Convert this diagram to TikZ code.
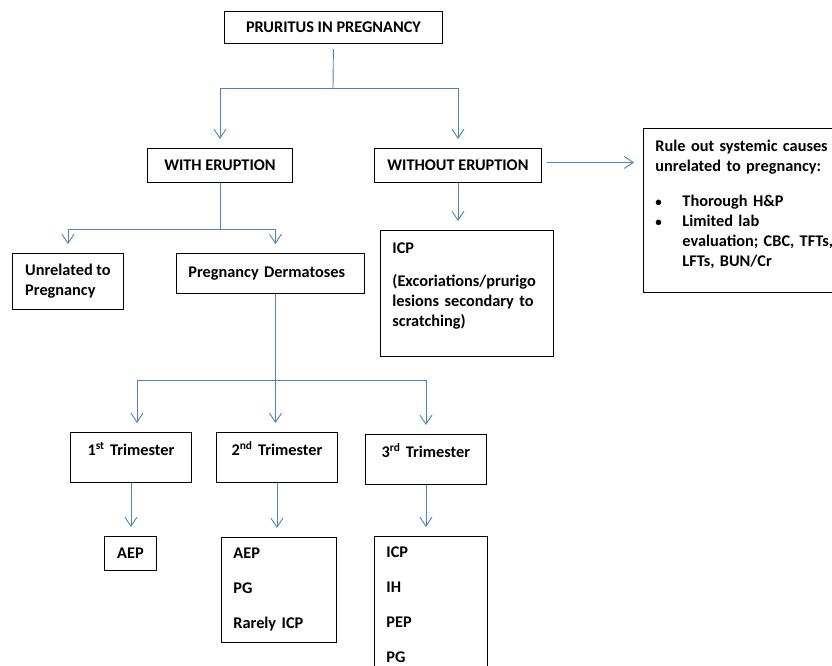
\documentclass[tikz,border=0pt]{standalone}
\usepackage{fontspec}
\setmainfont{Carlito}
\usetikzlibrary{arrows.meta,positioning}
\definecolor{linkblue}{RGB}{79,129,189}

\begin{document}
\begin{tikzpicture}[
    x=1pt, y=-1pt,
    font=\bfseries\fontsize{16.3}{20}\selectfont,
    box/.style={draw=black, line width=0.9pt, anchor=north west, inner xsep=12pt, inner ysep=6pt},
    topbox/.style={box, inner ysep=12pt, text height=11pt},
    link/.style={draw=linkblue, line width=0.9pt},
    arrow/.style={link, -{Straight Barb[length=9pt,width=12pt]}, shorten >=9pt}
  ]
  \useasboundingbox (0,0) rectangle (832,666);

  % Main components
  \node[box, minimum width=218pt, minimum height=32pt, align=center] (pruritus) at (224,11) {PRURITUS IN PREGNANCY};
  \node[box, minimum width=145pt, minimum height=34pt, align=center] (witherupt) at (147,148) {WITH ERUPTION};
  \node[box, minimum width=167pt, minimum height=34pt, align=center] (withouterupt) at (374,148) {WITHOUT ERUPTION};
  \node[topbox, text width=190pt, text depth=129pt, align=left] (rule) at (643,128)
    {Rule out systemic causes\\unrelated to pregnancy:\\[15pt]
     \makebox[27pt][l]{\fontsize{13}{13}\selectfont\textbullet}Thorough H\&P\\
     \makebox[27pt][l]{\fontsize{13}{13}\selectfont\textbullet}Limited lab\\
     \hspace*{27pt}evaluation; CBC, TFTs,\\
     \hspace*{27pt}LFTs, BUN/Cr};
  \node[box, minimum width=111pt, minimum height=56pt, align=left] (unrelated) at (12,253) {Unrelated to\\Pregnancy};
  \node[box, text width=164pt, minimum height=40pt, align=left] (dermatoses) at (176,253) {Pregnancy Dermatoses};
  \node[topbox, text width=149pt, text depth=91pt, align=left] (icp) at (380,230)
    {ICP\\[13pt](Excoriations/prurigo\\lesions secondary to\\scratching)};

  % Trimesters
  \node[topbox, text width=97pt, text depth=15pt, align=center] (first) at (70,432) {1\textsuperscript{st} Trimester};
  \node[topbox, text width=97pt, text depth=15pt, align=center] (second) at (216,432) {2\textsuperscript{nd} Trimester};
  \node[topbox, text width=97pt, text depth=15pt, align=center] (third) at (365,434) {3\textsuperscript{rd} Trimester};
  \node[box, minimum width=52pt, minimum height=34pt, align=center] (aepone) at (104,536) {AEP};
  \node[box, text width=91pt, minimum height=105pt, align=left] (listtwo) at (221,537) {AEP\\[15pt]PG\\[15pt]Rarely ICP};
  \node[topbox, inner ysep=10pt, text width=89pt, text depth=123pt, align=left] (listthree) at (374,536)
    {ICP\\[15pt]IH\\[15pt]PEP\\[15pt]PG};

  % Arrows
  \coordinate (split1) at (333,88);
  \draw[link, shorten <=5pt] (pruritus.south) -- (split1);
  \draw[arrow] (split1) -| (witherupt.north);
  \draw[arrow] (split1) -| (withouterupt.north);

  \coordinate (split2) at (witherupt.south |- 0,229);
  \draw[link] (witherupt.south) -- (split2);
  \draw[arrow] (split2) -| (unrelated.north);
  \draw[arrow] (split2) -| ([xshift=5pt]dermatoses.north);

  \draw[arrow] (withouterupt.south) -- (withouterupt.south |- icp.north);
  \draw[arrow, shorten <=5pt] ([yshift=3pt]withouterupt.east) -- ([yshift=3pt]withouterupt.east -| rule.west);

  \coordinate (split3) at ([xshift=5pt]dermatoses.south |- 0,380);
  \draw[link] ([xshift=5pt]dermatoses.south) -- (split3);
  \draw[arrow] (split3) -| ([xshift=6pt]first.north);
  \draw[arrow] (split3) -- (split3 |- second.north);
  \draw[arrow] (split3) -| (third.north);

  \draw[arrow] (first.south) -- (first.south |- aepone.north);
  \draw[arrow] (second.south) -- (second.south |- listtwo.north);
  \draw[arrow] (third.south) -- (third.south |- listthree.north);
\end{tikzpicture}
\end{document}
